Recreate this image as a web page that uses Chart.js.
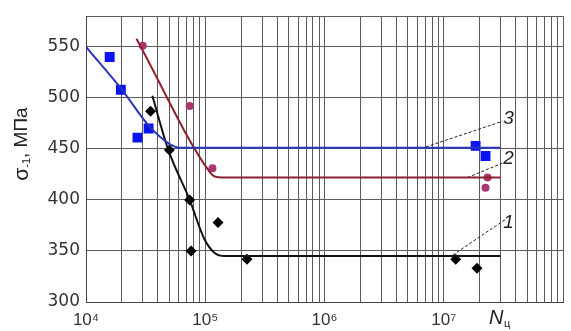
<!DOCTYPE html>
<html>
<head>
<meta charset="utf-8">
<script src="https://cdn.jsdelivr.net/npm/chart.js@4"></script>
<style>
  html, body { margin: 0; background: #fff; }
</style>
</head>
<body>
<canvas id="chart" width="571" height="331"></canvas>
<script>
// кривая 3 (синие квадраты)
const blueX = [1.58e4, 1.96e4, 2.7e4, 3.35e4, 1.85e7, 2.24e7];
const blueY = [540, 508, 461, 470, 453, 443];
const blueLineX = [1e4, 2e4, 3.4e4, 5e4, 6.3e4, 3e7];
const blueLineY = [550, 508, 472, 455, 451, 451];

// кривая 2 (бордовые кружки)
const redX = [2.99e4, 7.4e4, 1.15e5, 2.33e7, 2.24e7];
const redY = [551, 492, 431, 422, 412];
const redLineX = [2.65e4, 1.08e5, 1.2e5, 1.4e5, 3e7];
const redLineY = [558, 428, 423, 422, 422];

// кривая 1 (черные ромбы)
const blackX = [3.48e4, 5e4, 7.4e4, 7.6e4, 1.28e5, 2.24e5, 1.26e7, 1.9e7];
const blackY = [487, 449, 400, 350, 378, 342, 342, 333];
const blackLineX = [3.6e4, 4.9e4, 7.4e4, 9.8e4, 1.2e5, 1.45e5, 3e7];
const blackLineY = [502, 449, 400, 362, 348, 345, 345];

// выноски с номерами кривых
const leaderNames = ["3", "2", "1"];
const leaderX = [[7.1e6, 3.1e7], [1.58e7, 3.1e7], [1.19e7, 3.3e7]];
const leaderY = [[452, 477], [422, 436], [346, 381]];
const leaderTextX = [3.5e7, 3.5e7, 3.5e7];
const leaderTextY = [480, 440, 378];

// оси
const xGrid = [];
for (let p = 4; p < 8; p++) for (let m = 1; m < 10; m++) xGrid.push(m * Math.pow(10, p));
xGrid.push(1e8);
const xLabels = { 4: "10⁴", 5: "10⁵", 6: "10⁶", 7: "10⁷" };
const yTicks = [300, 350, 400, 450, 500, 550, 580];

function pts(xs, ys) {
    return xs.map((x, i) => ({ x: x, y: ys[i] }));
}

function lineSet(xs, ys, color, width) {
    return {
        data: pts(xs, ys),
        showLine: true,
        borderColor: color,
        borderWidth: width,
        pointRadius: 0,
        tension: 0.25,
        cubicInterpolationMode: "monotone"
    };
}

function markSet(xs, ys, color, style, r) {
    return {
        data: pts(xs, ys),
        showLine: false,
        pointStyle: style,
        pointRadius: r,
        backgroundColor: color,
        borderColor: color,
        borderWidth: 0
    };
}

const datasets = [
    lineSet(blueLineX, blueLineY, "#2b36b8", 2),
    lineSet(redLineX, redLineY, "#8c2230", 2),
    lineSet(blackLineX, blackLineY, "#111", 2),
    markSet(blueX, blueY, "#0a14f0", "rect", 7),
    markSet(redX, redY, "#a8386e", "circle", 4),
    markSet(blackX, blackY, "#000", "rectRot", 5.5)
];
leaderX.forEach((lx, i) => {
    datasets.push({
        data: pts(lx, leaderY[i]),
        showLine: true,
        borderColor: "#222",
        borderWidth: 1,
        borderDash: [3, 2],
        pointRadius: 0
    });
});

const textPlugin = {
    id: "textPlugin",
    afterDraw(chart) {
        const ctx = chart.ctx;
        const xs = chart.scales.x, ys = chart.scales.y;
        ctx.save();
        ctx.fillStyle = "#222";
        ctx.textBaseline = "middle";
        ctx.textAlign = "center";
        ctx.font = "italic 19px 'Liberation Sans'";
        leaderNames.forEach((t, i) => {
            ctx.fillText(t, xs.getPixelForValue(leaderTextX[i]), ys.getPixelForValue(leaderTextY[i]));
        });

        // N_ц
        ctx.textAlign = "left";
        ctx.font = "italic 20px 'Liberation Sans'";
        ctx.fillText("N", 489, 318);
        ctx.font = "11px 'Liberation Sans'";
        ctx.fillText("ц", 504, 324);

        // σ-1, МПа
        ctx.translate(22, 144);
        ctx.rotate(-Math.PI / 2);
        const parts = [
            { t: "σ", f: "21px 'Liberation Sans'", dy: 0 },
            { t: "-1", f: "11px 'Liberation Sans'", dy: 5 },
            { t: ", МПа", f: "19px 'Liberation Sans'", dy: 0 }
        ];
        let total = 0;
        parts.forEach(p => { ctx.font = p.f; p.w = ctx.measureText(p.t).width; total += p.w; });
        let x = -total / 2;
        parts.forEach(p => {
            ctx.font = p.f;
            ctx.fillText(p.t, x, p.dy);
            x += p.w;
        });
        ctx.restore();
    }
};

new Chart(document.getElementById("chart"), {
    type: "scatter",
    data: { datasets },
    options: {
        responsive: false,
        animation: false,
        layout: { padding: { top: 11, right: 4, left: 0, bottom: 0 } },
        plugins: {
            legend: { display: false },
            tooltip: { enabled: false }
        },
        scales: {
            x: {
                type: "logarithmic",
                min: 1e4,
                max: 1e8,
                afterBuildTicks: s => { s.ticks = xGrid.map(v => ({ value: v })); },
                afterFit: s => { s.height = 29; },
                grid: { color: "#5a5a5a", drawTicks: false },
                border: { color: "#444" },
                ticks: {
                    autoSkip: false,
                    maxRotation: 0,
                    padding: 8,
                    color: "#333",
                    font: { family: "'Liberation Sans'", size: 17 },
                    callback: v => {
                        const p = Math.log10(v);
                        return Math.abs(p - Math.round(p)) < 1e-9 ? (xLabels[Math.round(p)] || "") : "";
                    }
                }
            },
            y: {
                min: 300,
                max: 580,
                afterBuildTicks: s => { s.ticks = yTicks.map(v => ({ value: v })); },
                afterFit: s => { s.width = 86; },
                grid: { color: "#5a5a5a", drawTicks: false },
                border: { color: "#444" },
                ticks: {
                    padding: 6,
                    color: "#333",
                    font: { family: "'DejaVu Sans'", size: 17 },
                    callback: v => (v === 580 ? "" : v)
                }
            }
        }
    },
    plugins: [textPlugin]
});
</script>
</body>
</html>
